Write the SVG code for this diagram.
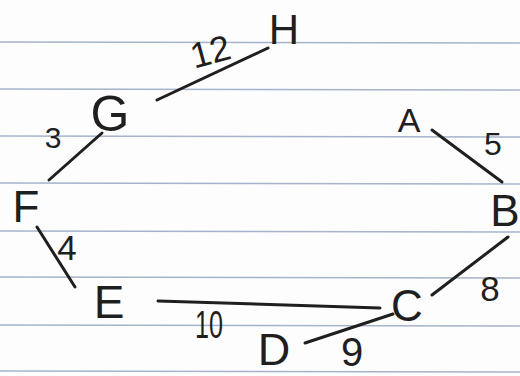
<svg xmlns="http://www.w3.org/2000/svg" width="520" height="376" viewBox="0 0 520 376">
<style>
.rule{stroke:#a6b3c9;stroke-width:1.5;fill:none}
.edge{stroke:#1f1f1f;stroke-width:3;stroke-linecap:round;fill:none}
.node{font-family:"Liberation Sans",Arial,sans-serif;fill:#1f1f1f;text-anchor:middle}
.w{font-family:"Liberation Sans",Arial,sans-serif;fill:#1f1f1f;text-anchor:middle}
</style>
<rect width="520" height="376" fill="#fdfdfd"/>
<g id="paper">
<line class="rule" x1="0" y1="42" x2="520" y2="43"/>
<line class="rule" x1="0" y1="89" x2="520" y2="90"/>
<line class="rule" x1="0" y1="136" x2="520" y2="137"/>
<line class="rule" x1="0" y1="183" x2="520" y2="184"/>
<line class="rule" x1="0" y1="231" x2="520" y2="232"/>
<line class="rule" x1="0" y1="277" x2="520" y2="278"/>
<line class="rule" x1="0" y1="325" x2="520" y2="326"/>
<line class="rule" x1="0" y1="371" x2="520" y2="372"/>
</g>
<g id="connectors">
<line class="edge" x1="157" y1="100" x2="268" y2="48"/>
<line class="edge" x1="49" y1="180" x2="102" y2="133"/>
<line class="edge" x1="432" y1="130" x2="502" y2="182"/>
<line class="edge" x1="37" y1="227" x2="75" y2="287"/>
<line class="edge" x1="158" y1="301" x2="380" y2="308"/>
<line class="edge" x1="393" y1="314" x2="305" y2="343"/>
<line class="edge" x1="432" y1="295" x2="508" y2="237"/>
</g>
<g id="weights">
<text class="w" x="210" y="64" font-size="36" transform="rotate(-15 210 50)">12</text>
<text class="w" x="53" y="148" font-size="30">3</text>
<text class="w" x="493" y="155" font-size="32">5</text>
<text class="w" x="67" y="260" font-size="35">4</text>
<text class="w" x="209" y="338" font-size="38" textLength="28" lengthAdjust="spacingAndGlyphs">10</text>
<text class="w" x="352" y="366" font-size="40">9</text>
<text class="w" x="490" y="301" font-size="35">8</text>
</g>
<g id="node-H"><text class="node" x="284" y="44" font-size="42">H</text></g>
<g id="node-G"><text class="node" x="110" y="131" font-size="50">G</text></g>
<g id="node-A"><text class="node" x="409" y="132" font-size="34">A</text></g>
<g id="node-F"><text class="node" x="26" y="222" font-size="44">F</text></g>
<g id="node-B"><text class="node" x="505" y="226" font-size="44">B</text></g>
<g id="node-E"><text class="node" x="109" y="318" font-size="46">E</text></g>
<g id="node-C"><text class="node" x="407" y="321" font-size="44">C</text></g>
<g id="node-D"><text class="node" x="274" y="365" font-size="45">D</text></g>
</svg>
